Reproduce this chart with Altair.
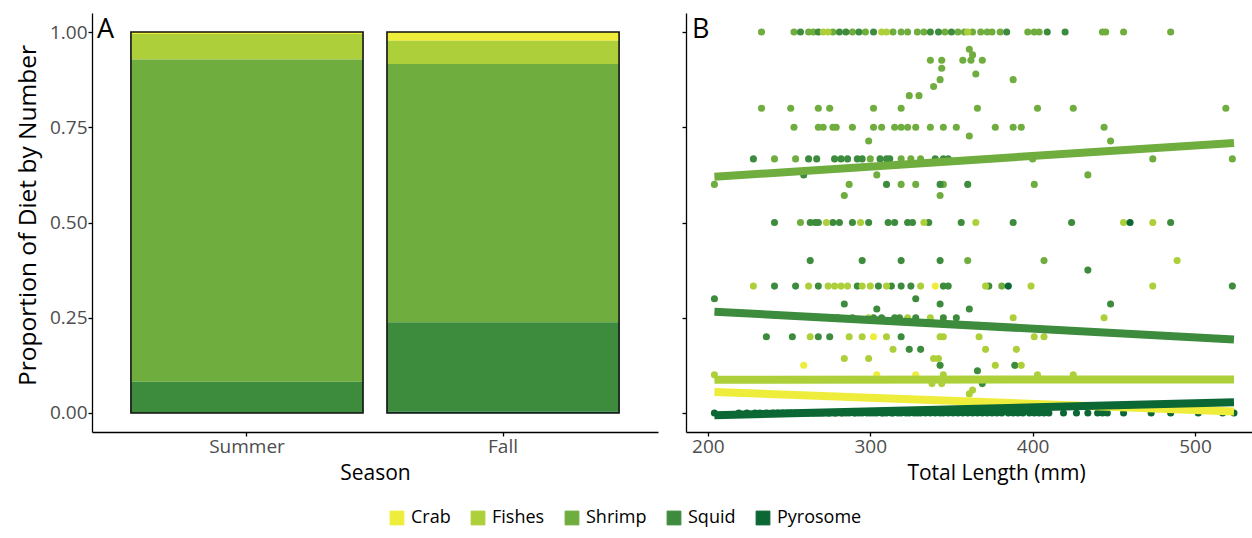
import altair as alt
import pandas as pd

FONT = "Open Sans"

# Prey categories, drawn bottom-to-top in the stacked bars as Pyrosome..Crab
prey_order = ["Crab", "Fishes", "Shrimp", "Squid", "Pyrosome"]
prey_colors = ["#EFED3B", "#ADD03A", "#70AD3F", "#3D8B3D", "#0B6734"]
stack_rank = [4, 3, 2, 1, 0]

# Panel A: diet composition by season (proportion by number)
seasons = ["Summer", "Fall"]
summer_share = [0.005, 0.067, 0.846, 0.082, 0.000]
fall_share = [0.023, 0.061, 0.678, 0.235, 0.003]

# Panel B: per-fish proportion of each prey vs total length (mm)
shrimp_len = [233, 253, 262, 265, 277, 289, 297, 314, 319, 323, 329, 333, 346, 354, 358,
              363, 368, 372, 375, 380, 397, 401, 404, 443, 445, 456, 485,
              361, 363, 337, 344, 357, 362, 369, 344, 365, 343, 388, 339, 324, 330,
              233, 251, 268, 275, 302, 319, 366, 403, 425, 519,
              253, 268, 271, 277, 279, 289, 302, 307, 315, 319, 323, 328, 337, 345, 353,
              377, 388, 393, 444, 361, 299, 448,
              241, 254, 300, 319, 325, 331, 400, 474, 523, 304, 434,
              204, 287, 319, 328, 345, 401, 284, 343, 257, 360, 407, 381]
shrimp_prop = [1.0] * 27 + \
              [0.955, 0.94, 0.926, 0.926, 0.926, 0.926, 0.926, 0.905, 0.89, 0.875, 0.875,
               0.857, 0.833, 0.833] + \
              [0.8] * 10 + [0.75] * 19 + [0.727, 0.714, 0.714] + \
              [0.667] * 9 + [0.625, 0.625] + [0.6] * 6 + [0.571, 0.571, 0.5, 0.4, 0.4, 0.333]

squid_len = [257, 268, 281, 285, 293, 302, 337, 342, 350, 384, 409, 420,
             228, 262, 267, 278, 282, 286, 292, 295, 306, 310, 312, 340, 345, 348,
             259, 310, 343, 360,
             241, 263, 266, 268, 277, 281, 289, 299, 311, 315, 323, 326, 336, 356, 388, 424, 485,
             263, 295, 319, 343, 434,
             241, 254, 268, 292, 305, 313, 319, 325, 345, 348, 373, 523,
             204, 328, 284, 343, 448, 304, 361,
             280, 289, 302, 307, 315, 318, 328, 345, 353,
             236, 252, 268, 275, 319, 324, 331, 343, 389, 366, 369]
squid_prop = [1.0] * 12 + [0.667] * 14 + [0.625] + [0.6] * 3 + [0.5] * 17 + \
             [0.4] * 4 + [0.375] + [0.333] * 12 + [0.3, 0.3, 0.286, 0.286, 0.286, 0.273, 0.273] + \
             [0.25] * 9 + [0.2] * 5 + [0.167, 0.167, 0.125, 0.125, 0.111, 0.077]

fishes_len = [271, 274, 307, 310, 360,
              273, 294, 333, 365, 456, 474, 489,
              228, 262, 274, 278, 282, 286, 295, 300, 310, 331, 371, 399, 474,
              299, 323, 337, 388, 444,
              263, 287, 295, 310, 343, 345, 367, 401, 407,
              314, 371, 390, 284, 299, 339, 342, 377, 393,
              204, 345, 403, 425, 338, 344, 363, 361]
fishes_prop = [1.0] * 5 + [0.5] * 6 + [0.4] + [0.333] * 13 + [0.25] * 5 + [0.2] * 9 + \
              [0.167] * 3 + [0.143] * 4 + [0.125] * 2 + [0.1] * 4 + [0.077, 0.077, 0.06, 0.05]

crab_len = [340, 302, 259, 304, 328]
crab_prop = [0.333, 0.2, 0.125, 0.1, 0.1]

pyrosome_len = [460, 385,
                204, 219, 224, 229, 232, 236, 240, 243, 246, 249, 251, 254, 257, 260, 262,
                265, 267, 269, 271, 274, 275, 278, 279, 282, 283, 285, 287, 290, 291, 293,
                295, 298, 300, 302, 304, 307, 308, 310, 313, 314, 317, 319, 322, 324, 327,
                329, 331, 334, 337, 340, 343, 345, 348, 351, 354, 357, 360, 363, 366, 369,
                372, 375, 378, 381, 385, 388, 391, 394, 398, 401, 404, 407, 410,
                419, 427, 434, 440, 443, 446, 456, 473, 485, 502, 517, 524]
pyrosome_prop = [0.5, 0.333] + [0.0] * 85

# Linear fits of proportion on length for each prey
fit_len_from = [204, 204, 204, 204, 204]
fit_len_to = [524, 524, 524, 524, 524]
fit_prop_from = [0.055, 0.087, 0.620, 0.266, -0.006]
fit_prop_to = [0.004, 0.088, 0.709, 0.193, 0.028]

# ---- tables -------------------------------------------------------------
diet_df = pd.DataFrame({
    "Season": [s for s in seasons for _ in prey_order],
    "Prey": prey_order * 2,
    "Proportion": summer_share + fall_share,
    "Rank": stack_rank * 2,
})

points_df = pd.concat([
    pd.DataFrame({"Length": shrimp_len, "Proportion": shrimp_prop, "Prey": "Shrimp"}),
    pd.DataFrame({"Length": squid_len, "Proportion": squid_prop, "Prey": "Squid"}),
    pd.DataFrame({"Length": fishes_len, "Proportion": fishes_prop, "Prey": "Fishes"}),
    pd.DataFrame({"Length": crab_len, "Proportion": crab_prop, "Prey": "Crab"}),
    pd.DataFrame({"Length": pyrosome_len, "Proportion": pyrosome_prop, "Prey": "Pyrosome"}),
], ignore_index=True)

fit_df = pd.DataFrame({
    "Prey": prey_order,
    "LenFrom": fit_len_from,
    "LenTo": fit_len_to,
    "PropFrom": fit_prop_from,
    "PropTo": fit_prop_to,
})

# ---- shared pieces ------------------------------------------------------
PANEL_W = 566
PANEL_H = 419

color_scale = alt.Scale(domain=prey_order, range=prey_colors)
legend = alt.Legend(
    title=None, orient="none", direction="horizontal", legendX=296, legendY=496,
    symbolType="square", symbolSize=190, symbolStrokeColor="#222222",
    symbolStrokeWidth=1, labelFontSize=18, labelFont=FONT, labelColor="black",
    columnPadding=18, labelOffset=5,
)
y_scale = alt.Scale(domain=[-0.05, 1.05], nice=False, zero=False)
y_ticks = [0, 0.25, 0.5, 0.75, 1.0]

# ---- panel A ------------------------------------------------------------
x_season = alt.X(
    "Season:N", sort=seasons,
    scale=alt.Scale(paddingInner=0.0935, paddingOuter=0.152),
    axis=alt.Axis(title="Season", labelAngle=0, titlePadding=6),
)
bars = alt.Chart(diet_df).mark_bar(strokeWidth=0).encode(
    x=x_season,
    y=alt.Y("Proportion:Q", stack="zero", scale=y_scale,
            axis=alt.Axis(values=y_ticks, format=".2f", titleFontSize=24.5,
                          title="Proportion of Diet by Number", titlePadding=9,
                          titleY=202)),
    color=alt.Color("Prey:N", scale=color_scale, legend=legend),
    stroke=alt.value("#222222"),
    order=alt.Order("Rank:Q"),
)
outline = alt.Chart(diet_df).mark_bar(
    fillOpacity=0, stroke="#111111", strokeWidth=1.6
).encode(x=alt.X("Season:N", sort=seasons), y=alt.Y("sum(Proportion):Q"))

tag_a = alt.Chart(pd.DataFrame({"tag": ["A"]})).mark_text(
    align="left", baseline="alphabetic", fontSize=27, font=FONT, color="black"
).encode(x=alt.value(5), y=alt.value(25), text="tag:N")

panel_a = alt.layer(bars, outline, tag_a).properties(width=PANEL_W, height=PANEL_H)

# ---- panel B ------------------------------------------------------------
x_len_scale = alt.Scale(domain=[186.5, 535.1], nice=False, zero=False)
points = alt.Chart(points_df).mark_circle(size=50, opacity=1).encode(
    x=alt.X("Length:Q", scale=x_len_scale,
            axis=alt.Axis(values=[200, 300, 400, 500], title="Total Length (mm)",
                          titlePadding=6, titleX=310)),
    y=alt.Y("Proportion:Q", scale=y_scale,
            axis=alt.Axis(values=y_ticks, labels=False, title=None)),
    color=alt.Color("Prey:N", scale=color_scale, legend=legend),
)
fits = alt.Chart(fit_df).mark_rule(strokeWidth=8, strokeCap="butt").encode(
    x=alt.X("LenFrom:Q", scale=x_len_scale),
    x2="LenTo:Q",
    y=alt.Y("PropFrom:Q", scale=y_scale),
    y2="PropTo:Q",
    color=alt.Color("Prey:N", scale=color_scale, legend=legend),
)
tag_b = alt.Chart(pd.DataFrame({"tag": ["B"]})).mark_text(
    align="left", baseline="alphabetic", fontSize=27, font=FONT, color="black"
).encode(x=alt.value(6), y=alt.value(25), text="tag:N")

panel_b = alt.layer(points, fits, tag_b).properties(width=PANEL_W, height=PANEL_H)

chart = alt.hconcat(panel_a, panel_b, spacing=28, bounds="flush").properties(
    padding={"left": 15, "top": 13, "right": 0, "bottom": 0},
    background="white",
).configure_view(stroke=None).configure_axis(
    grid=False,
    domainColor="black", domainWidth=1.3,
    tickColor="black", tickWidth=1.3, tickSize=4,
    labelFont=FONT, labelFontSize=19, labelColor="#4D4D4D", labelPadding=1,
    titleFont=FONT, titleFontSize=21, titleFontWeight="normal", titleColor="black",
)

chart.save("out.html", embed_options={"renderer": "svg", "actions": False})
